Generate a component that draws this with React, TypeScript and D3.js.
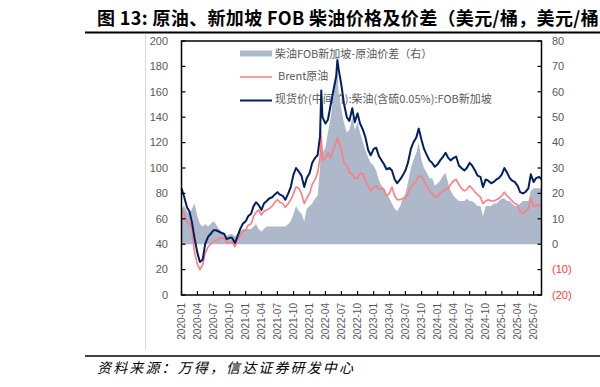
import React, { useEffect, useRef } from "react";
import * as d3 from "d3";

// semi-monthly readings (plus two spike days in 2022)
const dates = [
  "2020-01-01", "2020-01-15", "2020-02-01", "2020-02-15", "2020-03-01", "2020-03-15", "2020-04-01", "2020-04-15",
  "2020-05-01", "2020-05-15", "2020-06-01", "2020-06-15", "2020-07-01", "2020-07-15", "2020-08-01", "2020-08-15",
  "2020-09-01", "2020-09-15", "2020-10-01", "2020-10-15", "2020-11-01", "2020-11-15", "2020-12-01", "2020-12-15",
  "2021-01-01", "2021-01-15", "2021-02-01", "2021-02-15", "2021-03-01", "2021-03-15", "2021-04-01", "2021-04-15",
  "2021-05-01", "2021-05-15", "2021-06-01", "2021-06-15", "2021-07-01", "2021-07-15", "2021-08-01", "2021-08-15",
  "2021-09-01", "2021-09-15", "2021-10-01", "2021-10-15", "2021-11-01", "2021-11-15", "2021-12-01", "2021-12-15",
  "2022-01-01", "2022-01-15", "2022-02-01", "2022-02-15", "2022-03-01", "2022-03-08", "2022-03-15", "2022-04-01",
  "2022-04-15", "2022-05-01", "2022-05-15", "2022-06-01", "2022-06-08", "2022-06-15", "2022-07-01", "2022-07-15",
  "2022-08-01", "2022-08-15", "2022-09-01", "2022-09-15", "2022-10-01", "2022-10-15", "2022-11-01", "2022-11-15",
  "2022-12-01", "2022-12-15",
  "2023-01-01", "2023-01-15", "2023-02-01", "2023-02-15", "2023-03-01", "2023-03-15", "2023-04-01", "2023-04-15",
  "2023-05-01", "2023-05-15", "2023-06-01", "2023-06-15", "2023-07-01", "2023-07-15", "2023-08-01", "2023-08-15",
  "2023-09-01", "2023-09-15", "2023-10-01", "2023-10-15", "2023-11-01", "2023-11-15", "2023-12-01", "2023-12-15",
  "2024-01-01", "2024-01-15", "2024-02-01", "2024-02-15", "2024-03-01", "2024-03-15", "2024-04-01", "2024-04-15",
  "2024-05-01", "2024-05-15", "2024-06-01", "2024-06-15", "2024-07-01", "2024-07-15", "2024-08-01", "2024-08-15",
  "2024-09-01", "2024-09-15", "2024-10-01", "2024-10-15", "2024-11-01", "2024-11-15", "2024-12-01", "2024-12-15",
  "2025-01-01", "2025-01-15", "2025-02-01", "2025-02-15", "2025-03-01", "2025-03-15", "2025-04-01", "2025-04-15",
  "2025-05-01", "2025-05-15", "2025-06-01", "2025-06-15", "2025-07-01", "2025-07-15", "2025-08-01", "2025-08-15",
];

// 现货价(中间价):柴油(含硫0.05%):FOB新加坡
const dieselSpot = [
  84, 78, 69, 66, 57, 45, 33, 26, 28, 40, 46, 48, 51, 51, 50, 49, 48, 44, 45, 45, 41, 46, 52, 56,
  58, 62, 64, 70, 73, 71, 67, 72, 74, 76, 77, 79, 81, 79, 78, 75, 80, 85, 95, 100, 97, 94, 85, 92,
  96, 104, 108, 110, 125, 161, 140, 135, 138, 150, 160, 172, 185, 178, 165, 151, 140, 137, 147, 136, 143, 135, 130, 124, 114, 110,
  115, 116, 109, 106, 103, 99, 100, 98, 91, 88, 91, 94, 98, 104, 115, 120, 124, 131, 122, 115, 110, 106, 104, 101,
  103, 106, 109, 112, 108, 106, 108, 109, 102, 100, 98, 100, 104, 102, 98, 94, 93, 85, 91, 90, 88, 89, 91, 92,
  95, 100, 96, 92, 90, 89, 86, 81, 80, 81, 84, 95, 89, 92, 93, 91,
];

// Brent原油
const brent = [
  68, 64, 57, 57, 51, 34, 24, 20, 24, 33, 38, 40, 42, 43, 44, 45, 45, 41, 41, 42, 38, 43, 47, 50,
  51, 55, 56, 62, 65, 67, 63, 66, 67, 68, 70, 73, 75, 73, 72, 69, 72, 75, 80, 85, 84, 80, 72, 76,
  80, 87, 91, 96, 108, 125, 106, 108, 112, 108, 114, 120, 124, 121, 114, 104, 102, 97, 95, 92, 92, 96, 95, 90, 86, 82,
  85, 86, 83, 84, 83, 78, 80, 85, 78, 75, 75, 76, 76, 80, 85, 87, 90, 94, 93, 90, 85, 82, 80, 77,
  78, 80, 82, 83, 84, 87, 90, 91, 87, 84, 82, 83, 86, 84, 81, 79, 77, 72, 74, 75, 74, 74, 75, 76,
  78, 81, 78, 76, 74, 72, 71, 66, 64, 66, 68, 76, 70, 70, 71, 69,
];

// 柴油FOB新加坡-原油价差（右）
const spread = [
  14, 15, 13, 12, 14, 16, 11, 8, 7, 8, 7, 8, 9, 8, 6, 5, 4, 3, 4, 4, 3, 4, 5, 6,
  6, 6, 6, 7, 8, 6, 5, 6, 7, 7, 7, 7, 7, 7, 7, 7, 8, 9, 12, 15, 13, 12, 9, 14,
  15, 16, 18, 19, 30, 48, 36, 38, 44, 50, 58, 66, 70, 60, 53, 48, 44, 45, 50, 45, 48, 44, 40, 37, 34, 32,
  31, 29, 25, 23, 22, 20, 18, 16, 14, 13, 15, 18, 20, 24, 30, 33, 36, 40, 33, 30, 28, 26, 26, 23,
  24, 25, 27, 28, 24, 21, 19, 18, 17, 17, 17, 18, 17, 17, 16, 15, 15, 11, 15, 15, 15, 16, 16, 17,
  18, 18, 17, 17, 16, 15, 15, 16, 17, 17, 17, 21, 22, 22, 22, 22,
];

const leftTicks = [0, 20, 40, 60, 80, 100, 120, 140, 160, 180, 200];
const rightTicks = [-20, -10, 0, 10, 20, 30, 40, 50, 60, 70, 80];
const xTickLabels = [
  "2020-01", "2020-04", "2020-07", "2020-10", "2021-01", "2021-04", "2021-07", "2021-10",
  "2022-01", "2022-04", "2022-07", "2022-10", "2023-01", "2023-04", "2023-07", "2023-10",
  "2024-01", "2024-04", "2024-07", "2024-10", "2025-01", "2025-04", "2025-07",
];

const cjk = "'Noto Sans CJK SC', 'Noto Sans', sans-serif";
const latin = "'Liberation Sans', Arial, sans-serif";

export default function App() {
  const ref = useRef<SVGSVGElement>(null);

  useEffect(() => {
    const svg = d3.select(ref.current);
    svg.selectAll("*").remove();

    const left = 181.5, right = 541.5, top = 41, bottom = 295;
    const parse = d3.timeParse("%Y-%m-%d");
    const parseMonth = d3.timeParse("%Y-%m");

    const rows = dates.map((d, i) => ({
      date: parse(d) as Date,
      g: dieselSpot[i],
      b: brent[i],
      s: spread[i],
    }));

    const x = d3.scaleTime()
      .domain([parse("2020-01-01") as Date, parse("2025-08-15") as Date])
      .range([left, right]);
    const yL = d3.scaleLinear().domain([0, 200]).range([bottom, top]);
    const yR = d3.scaleLinear().domain([-20, 80]).range([bottom, top]);

    // title
    svg.append("text")
      .attr("x", 97).attr("y", 25)
      .attr("font-family", cjk).attr("font-size", 18).attr("font-weight", "bold")
      .attr("fill", "#000")
      .attr("textLength", 520).attr("lengthAdjust", "spacing")
      .text("图 13: 原油、新加坡 FOB 柴油价格及价差（美元/桶，美元/桶）");
    svg.append("line")
      .attr("x1", 85).attr("x2", 600).attr("y1", 32.5).attr("y2", 32.5)
      .attr("stroke", "#000").attr("stroke-width", 2);

    // chart frame edge
    svg.append("line")
      .attr("x1", 145.5).attr("x2", 145.5).attr("y1", 34).attr("y2", 350)
      .attr("stroke", "#d9d9d9").attr("stroke-width", 1);

    // legend (sits under the series)
    const lg = svg.append("g").attr("font-family", cjk).attr("font-size", 11).attr("fill", "#595959");
    lg.append("rect").attr("x", 240).attr("y", 50.5).attr("width", 32).attr("height", 6).attr("fill", "#adb9ca");
    lg.append("text").attr("x", 275).attr("y", 54).attr("dy", "0.35em").text("柴油FOB新加坡-原油价差（右）");
    lg.append("line").attr("x1", 240).attr("x2", 272).attr("y1", 77).attr("y2", 77)
      .attr("stroke", "#ff7c80").attr("stroke-width", 1.5);
    lg.append("text").attr("x", 278).attr("y", 76.5).attr("dy", "0.35em").text("Brent原油");
    lg.append("line").attr("x1", 240).attr("x2", 272).attr("y1", 100.5).attr("y2", 100.5)
      .attr("stroke", "#002060").attr("stroke-width", 2);
    lg.append("text").attr("x", 275).attr("y", 99.5).attr("dy", "0.35em").text("现货价(中间价):柴油(含硫0.05%):FOB新加坡");

    // spread area on right axis
    const area = d3.area<any>()
      .x(d => x(d.date))
      .y0(yR(0))
      .y1(d => yR(d.s));
    svg.append("path").datum(rows).attr("d", area).attr("fill", "#adb9ca");

    const brentLine = d3.line<any>().x(d => x(d.date)).y(d => yL(d.b));
    svg.append("path").datum(rows).attr("d", brentLine)
      .attr("fill", "none").attr("stroke", "#ff7c80").attr("stroke-width", 1.6)
      .attr("stroke-linejoin", "round");

    const spotLine = d3.line<any>().x(d => x(d.date)).y(d => yL(d.g));
    svg.append("path").datum(rows).attr("d", spotLine)
      .attr("fill", "none").attr("stroke", "#002060").attr("stroke-width", 2)
      .attr("stroke-linejoin", "round");

    // frame
    svg.append("rect")
      .attr("x", left).attr("y", top).attr("width", right - left).attr("height", bottom - top)
      .attr("fill", "none").attr("stroke", "#000").attr("stroke-width", 1.5);

    // left axis
    const la = svg.append("g");
    leftTicks.forEach(t => {
      la.append("line").attr("x1", left).attr("x2", left + 4).attr("y1", yL(t)).attr("y2", yL(t))
        .attr("stroke", "#000").attr("stroke-width", 1.2);
      la.append("text").attr("x", 168).attr("y", yL(t)).attr("dy", "0.35em")
        .attr("text-anchor", "end").attr("font-family", latin).attr("font-size", 11)
        .attr("fill", "#595959").text(String(t));
    });

    // right axis
    const ra = svg.append("g");
    rightTicks.forEach(t => {
      ra.append("line").attr("x1", right - 4).attr("x2", right).attr("y1", yR(t)).attr("y2", yR(t))
        .attr("stroke", "#000").attr("stroke-width", 1.2);
      ra.append("text").attr("x", 552).attr("y", yR(t)).attr("dy", "0.35em")
        .attr("font-family", latin).attr("font-size", 11)
        .attr("fill", t < 0 ? "#ff3b3b" : "#595959")
        .text(t < 0 ? `(${-t})` : String(t));
    });

    // bottom axis
    const xa = svg.append("g");
    xTickLabels.forEach(l => {
      const px = x(parseMonth(l) as Date);
      xa.append("line").attr("x1", px).attr("x2", px).attr("y1", bottom).attr("y2", bottom - 4)
        .attr("stroke", "#000").attr("stroke-width", 1.2);
      xa.append("text")
        .attr("transform", `translate(${px}, 303) rotate(-90)`)
        .attr("text-anchor", "end").attr("dy", "0.35em")
        .attr("font-family", latin).attr("font-size", 10).attr("fill", "#595959")
        .text(l);
    });

    // source
    svg.append("line")
      .attr("x1", 85).attr("x2", 600).attr("y1", 356).attr("y2", 356)
      .attr("stroke", "#000").attr("stroke-width", 1.5);
    svg.append("text")
      .attr("x", 97).attr("y", 373)
      .attr("font-family", cjk).attr("font-size", 14).attr("font-style", "italic")
      .attr("fill", "#000")
      .attr("textLength", 256).attr("lengthAdjust", "spacing")
      .text("资料来源：万得，信达证券研发中心");
  }, []);

  return (
    <svg
      ref={ref}
      width={600}
      height={387}
      style={{ position: "absolute", left: 0, top: 0, background: "#fff" }}
    />
  );
}
